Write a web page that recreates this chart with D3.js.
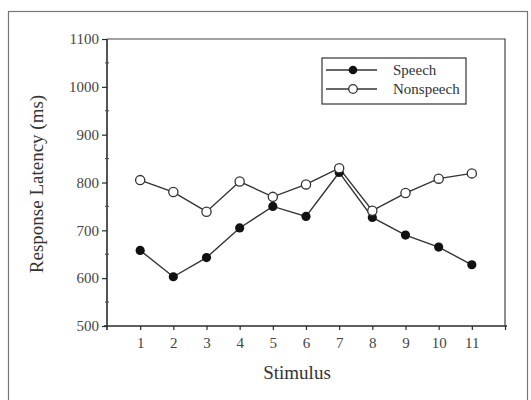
<!DOCTYPE html>
<html><head><meta charset="utf-8">
<script src="https://cdn.jsdelivr.net/npm/d3@7"></script>
<style>
body{margin:0;background:#fff;}
svg{display:block;}
</style></head>
<body>
<svg id="chart" width="531" height="400"></svg>
<script>
const stimuli = [1,2,3,4,5,6,7,8,9,10,11];
const speech = [658,603,643,705,750,729,821,727,690,665,628];
const nonspeech = [805,780,739,802,770,796,830,741,778,808,819];
const yTicks = [500,600,700,800,900,1000,1100];
const yMinorTicks = [550,650,750,850,950,1050];
const seriesNames = ["Speech","Nonspeech"];

const svg = d3.select("#chart");
const serif = "'Liberation Serif','Times New Roman',serif";
const ink = "#2a2a2a";

// outer frame
svg.append("rect").attr("x",8.5).attr("y",11.5).attr("width",519).attr("height",420)
  .attr("fill","none").attr("stroke","#777").attr("stroke-width",1.2);

const L=107, R=505, T=39, B=326;
const x = d3.scaleLinear().domain([0,12]).range([L,R]);
const y = d3.scaleLinear().domain([500,1100]).range([B,T]);

// plot box top and right
svg.append("path").attr("d",`M${L},${T}H${R}V${B}`).attr("fill","none")
  .attr("stroke","#444").attr("stroke-width",1.2);

// y axis
const yAxis = svg.append("g").attr("transform",`translate(${L},0)`)
  .call(d3.axisLeft(y).tickValues(yTicks).tickSize(5).tickPadding(3).tickFormat(d3.format("d")));
yAxis.select(".domain").attr("stroke",ink).attr("stroke-width",1.6).attr("d",`M0,${T}V${B+4}`);
yAxis.selectAll(".tick line").attr("stroke",ink).attr("stroke-width",1.2);
yAxis.selectAll(".tick text").attr("font-family",serif).attr("font-size",15).attr("fill","#444");
// minor ticks
svg.append("g").selectAll("line").data(yMinorTicks).join("line")
  .attr("x1",L-2).attr("x2",L+2).attr("y1",d=>y(d)).attr("y2",d=>y(d))
  .attr("stroke","#555").attr("stroke-width",1.2);

// x axis
const xAxis = svg.append("g").attr("transform",`translate(0,${B})`)
  .call(d3.axisBottom(x).tickValues(stimuli.concat([12])).tickSize(4).tickPadding(7)
    .tickFormat(d=> d===12 ? "" : d));
xAxis.select(".domain").attr("stroke",ink).attr("stroke-width",1.6).attr("d",`M${L-3},0H${R+2}`);
xAxis.selectAll(".tick line").attr("stroke",ink).attr("stroke-width",1.2);
xAxis.selectAll(".tick text").attr("font-family",serif).attr("font-size",15).attr("fill","#444");

// axis titles
svg.append("text").attr("x",297).attr("y",379).attr("text-anchor","middle")
  .attr("font-family",serif).attr("font-size",19).attr("fill","#333").text("Stimulus");
svg.append("text").attr("transform","translate(43,184) rotate(-90)").attr("text-anchor","middle")
  .attr("font-family",serif).attr("font-size",19).attr("fill","#333").text("Response Latency (ms)");

const line = d3.line().x((d,i)=>x(stimuli[i])).y(d=>y(d));
const r = 4.6;

svg.append("path").datum(speech).attr("d",line).attr("fill","none").attr("stroke","#333").attr("stroke-width",1.4);
svg.append("path").datum(nonspeech).attr("d",line).attr("fill","none").attr("stroke","#333").attr("stroke-width",1.4);
svg.append("g").selectAll("circle").data(speech).join("circle")
  .attr("cx",(d,i)=>x(stimuli[i])).attr("cy",d=>y(d)).attr("r",r).attr("fill","#111");
svg.append("g").selectAll("circle").data(nonspeech).join("circle")
  .attr("cx",(d,i)=>x(stimuli[i])).attr("cy",d=>y(d)).attr("r",r)
  .attr("fill","#fff").attr("stroke","#333").attr("stroke-width",1.3);

// legend
const lg = svg.append("g");
lg.append("rect").attr("x",322).attr("y",58).attr("width",144).attr("height",46)
  .attr("fill","#fff").attr("stroke","#444").attr("stroke-width",1.3);
seriesNames.forEach((name,i)=>{
  const ly = 70 + i*19;
  lg.append("line").attr("x1",326).attr("x2",377).attr("y1",ly).attr("y2",ly)
    .attr("stroke","#333").attr("stroke-width",1.4);
  lg.append("circle").attr("cx",353).attr("cy",ly).attr("r",4.3)
    .attr("fill", i===0 ? "#111" : "#fff").attr("stroke", i===0 ? "none" : "#333").attr("stroke-width",1.3);
  lg.append("text").attr("x",393).attr("y",ly+5).attr("font-family",serif).attr("font-size",15)
    .attr("fill","#333").text(name);
});
</script>
</body></html>
